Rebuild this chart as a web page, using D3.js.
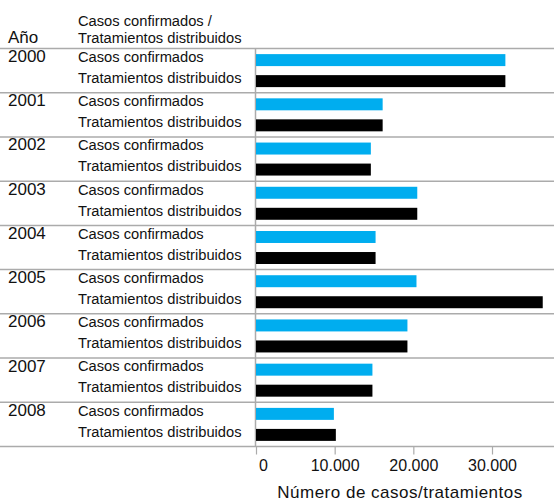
<!DOCTYPE html>
<html>
<head>
<meta charset="utf-8">
<script src="https://cdn.jsdelivr.net/npm/d3@7"></script>
<style>
  html, body { margin: 0; padding: 0; background: #fff; }
  svg { display: block; font-family: "Liberation Sans", Arial, sans-serif; }
</style>
</head>
<body>
<svg id="chart" width="554" height="502"></svg>
<script>
// Casos confirmados y tratamientos distribuidos por año
const years = ["2000", "2001", "2002", "2003", "2004", "2005", "2006", "2007", "2008"];
const seriesKeys = ["casos", "tratamientos"];
const seriesLabels = ["Casos confirmados", "Tratamientos distribuidos"];
const casos = [31700, 16100, 14600, 20500, 15200, 20400, 19250, 14800, 9900];
const tratamientos = [31700, 16100, 14600, 20500, 15200, 36450, 19250, 14800, 10150];
const tickValues = [0, 10000, 20000, 30000];
const yearHeader = "Año";
const seriesHeader = ["Casos confirmados /", "Tratamientos distribuidos"];
const axisTitle = "Número de casos/tratamientos";

const W = 554, H = 502;
const colors = { casos: "#00adef", tratamientos: "#000000" };
const gridColor = "#ababab";
const textColor = "#111";
const labelSize = 14.7;
const yearSize = 17;
const tickSize = 16;

const svg = d3.select("#chart");

const esLocale = d3.formatLocale({ decimal: ",", thousands: ".", grouping: [3], currency: ["", " €"] });
const fmt = esLocale.format(",d");

const x = d3.scaleLinear().domain([0, 30000]).range([256, 492]);
const y = d3.scaleBand().domain(years).range([48.5, 446.5]);
const yInner = d3.scaleBand().domain(seriesKeys).range([0, y.step()])
  .paddingInner(0.43).paddingOuter(0.267);

const rows = years.map((yr, i) => ({ year: yr, casos: casos[i], tratamientos: tratamientos[i] }));

// header
svg.append("text").attr("x", 8).attr("y", 43.3).attr("font-size", yearSize).attr("fill", textColor).text(yearHeader);
svg.append("text").attr("x", 78).attr("y", 25.5).attr("font-size", labelSize).attr("fill", textColor).text(seriesHeader[0]);
svg.append("text").attr("x", 78).attr("y", 43.3).attr("font-size", labelSize).attr("fill", textColor).text(seriesHeader[1]);

// row separators
const seps = years.map(d => y(d)).concat([y(years[years.length - 1]) + y.step()]);
svg.append("g").selectAll("line").data(seps).join("line")
  .attr("x1", 0).attr("x2", W).attr("y1", d => d).attr("y2", d => d)
  .attr("stroke", gridColor).attr("stroke-width", 1.5);

// vertical baseline at zero
svg.append("line")
  .attr("x1", x(0) - 0.5).attr("x2", x(0) - 0.5)
  .attr("y1", y.range()[0]).attr("y2", y.range()[1])
  .attr("stroke", gridColor).attr("stroke-width", 1.5);

// rows: labels and bars
const g = svg.append("g").selectAll("g").data(rows).join("g")
  .attr("transform", d => `translate(0,${y(d.year)})`);

g.append("text").attr("x", 8).attr("y", 13.5).attr("font-size", yearSize).attr("fill", textColor).text(d => d.year);

seriesKeys.forEach((k, i) => {
  g.append("text")
    .attr("x", 78)
    .attr("y", yInner(k) + yInner.bandwidth() / 2 + 1.8)
    .attr("font-size", labelSize).attr("fill", textColor)
    .text(seriesLabels[i]);
  g.append("rect")
    .attr("x", x(0))
    .attr("y", yInner(k))
    .attr("width", d => x(d[k]) - x(0))
    .attr("height", yInner.bandwidth())
    .attr("fill", colors[k]);
});

// x axis
const axis = d3.axisBottom(x).tickValues(tickValues).tickSize(8).tickPadding(5).tickFormat(fmt);
const ax = svg.append("g").attr("transform", `translate(0,${y.range()[1]})`).call(axis);
ax.select(".domain").remove();
ax.selectAll(".tick line").attr("stroke", gridColor).attr("stroke-width", 1.2);
ax.selectAll(".tick text")
  .attr("font-family", "Liberation Sans, Arial, sans-serif")
  .attr("font-size", tickSize).attr("fill", textColor)
  .attr("dx", d => d === 0 ? 7 : 0);

svg.append("text")
  .attr("x", 400).attr("y", 497.5)
  .attr("text-anchor", "middle")
  .attr("font-size", 17).attr("letter-spacing", 0.5).attr("fill", textColor)
  .text(axisTitle);
</script>
</body>
</html>
